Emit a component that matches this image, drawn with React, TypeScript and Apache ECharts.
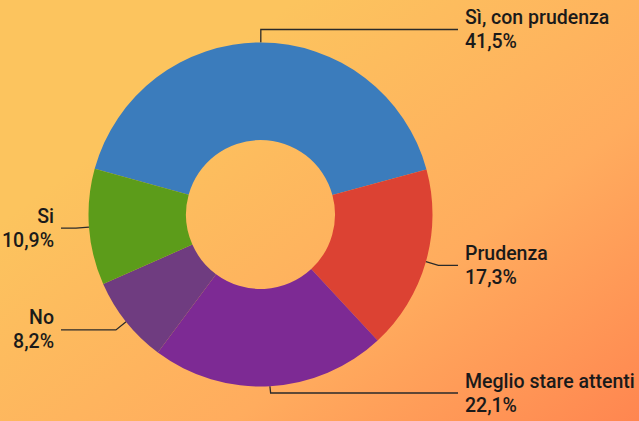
import React, { useEffect, useRef } from "react";
import * as echarts from "echarts";

const categories = ["Sì, con prudenza", "Prudenza", "Meglio stare attenti", "No", "Si"];
const values = [41.5, 17.3, 22.1, 8.2, 10.9];
const colors = ["#3b7cbc", "#dc4233", "#7d2a94", "#6f3c80", "#5c9c1a"];

const CX = 260.5;
const RIGHT_LINE_END = 458;
const LEFT_LINE_END = 61;
const LABEL_GAP = 7;
const MAX_LABEL_Y = 393;

export default function App() {
  const ref = useRef<HTMLDivElement>(null);
  useEffect(() => {
    if (!ref.current) return;
    const chart = echarts.init(ref.current, null, { renderer: "svg" });
    chart.setOption({
      animation: false,
      backgroundColor: {
        type: "linear",
        x: 0.2,
        y: 0.3,
        x2: 1,
        y2: 1,
        colorStops: [
          { offset: 0, color: "#fcc45e" },
          { offset: 0.55, color: "#ffac5e" },
          { offset: 1, color: "#ff8650" },
        ],
      },
      series: [
        {
          type: "pie",
          left: 0,
          top: 0,
          width: 639,
          height: 460,
          center: [CX, 214.5],
          radius: [74.5, 172],
          startAngle: 164.6,
          clockwise: true,
          avoidLabelOverlap: false,
          data: categories.map((name, i) => ({
            name,
            value: values[i],
            itemStyle: { color: colors[i] },
          })),
          label: {
            show: true,
            position: "outside",
            overflow: "none",
            formatter: (p: any) => `${p.name}\n${p.value.toFixed(1).replace(".", ",")}%`,
            color: "#1a1a1a",
            fontFamily: "Roboto, 'DejaVu Sans', sans-serif",
            fontSize: 19.5,
            fontWeight: 500,
            lineHeight: 24,
          },
          labelLine: {
            show: true,
            length: 13,
            length2: 18,
            lineStyle: { color: "#2a2a2a", width: 1.3 },
          },
          labelLayout: (params: any) => {
            const pts = params.labelLinePoints;
            if (!pts) return {};
            const p0 = pts[0];
            const p1 = pts[1];
            const right = p1[0] >= CX;
            const endX = right ? RIGHT_LINE_END : LEFT_LINE_END;
            const ly = Math.min(p1[1], MAX_LABEL_Y);
            return {
              x: right ? endX + LABEL_GAP : endX - LABEL_GAP,
              y: ly,
              align: right ? "left" : "right",
              verticalAlign: "middle",
              labelLinePoints: [
                [p0[0], p0[1]],
                [p1[0], ly],
                [endX, ly],
              ],
            };
          },
          emphasis: { disabled: true },
        },
      ],
    });
    return () => chart.dispose();
  }, []);
  return (
    <div
      ref={ref}
      style={{ position: "fixed", left: 0, top: 0, width: 639, height: 421 }}
    />
  );
}
